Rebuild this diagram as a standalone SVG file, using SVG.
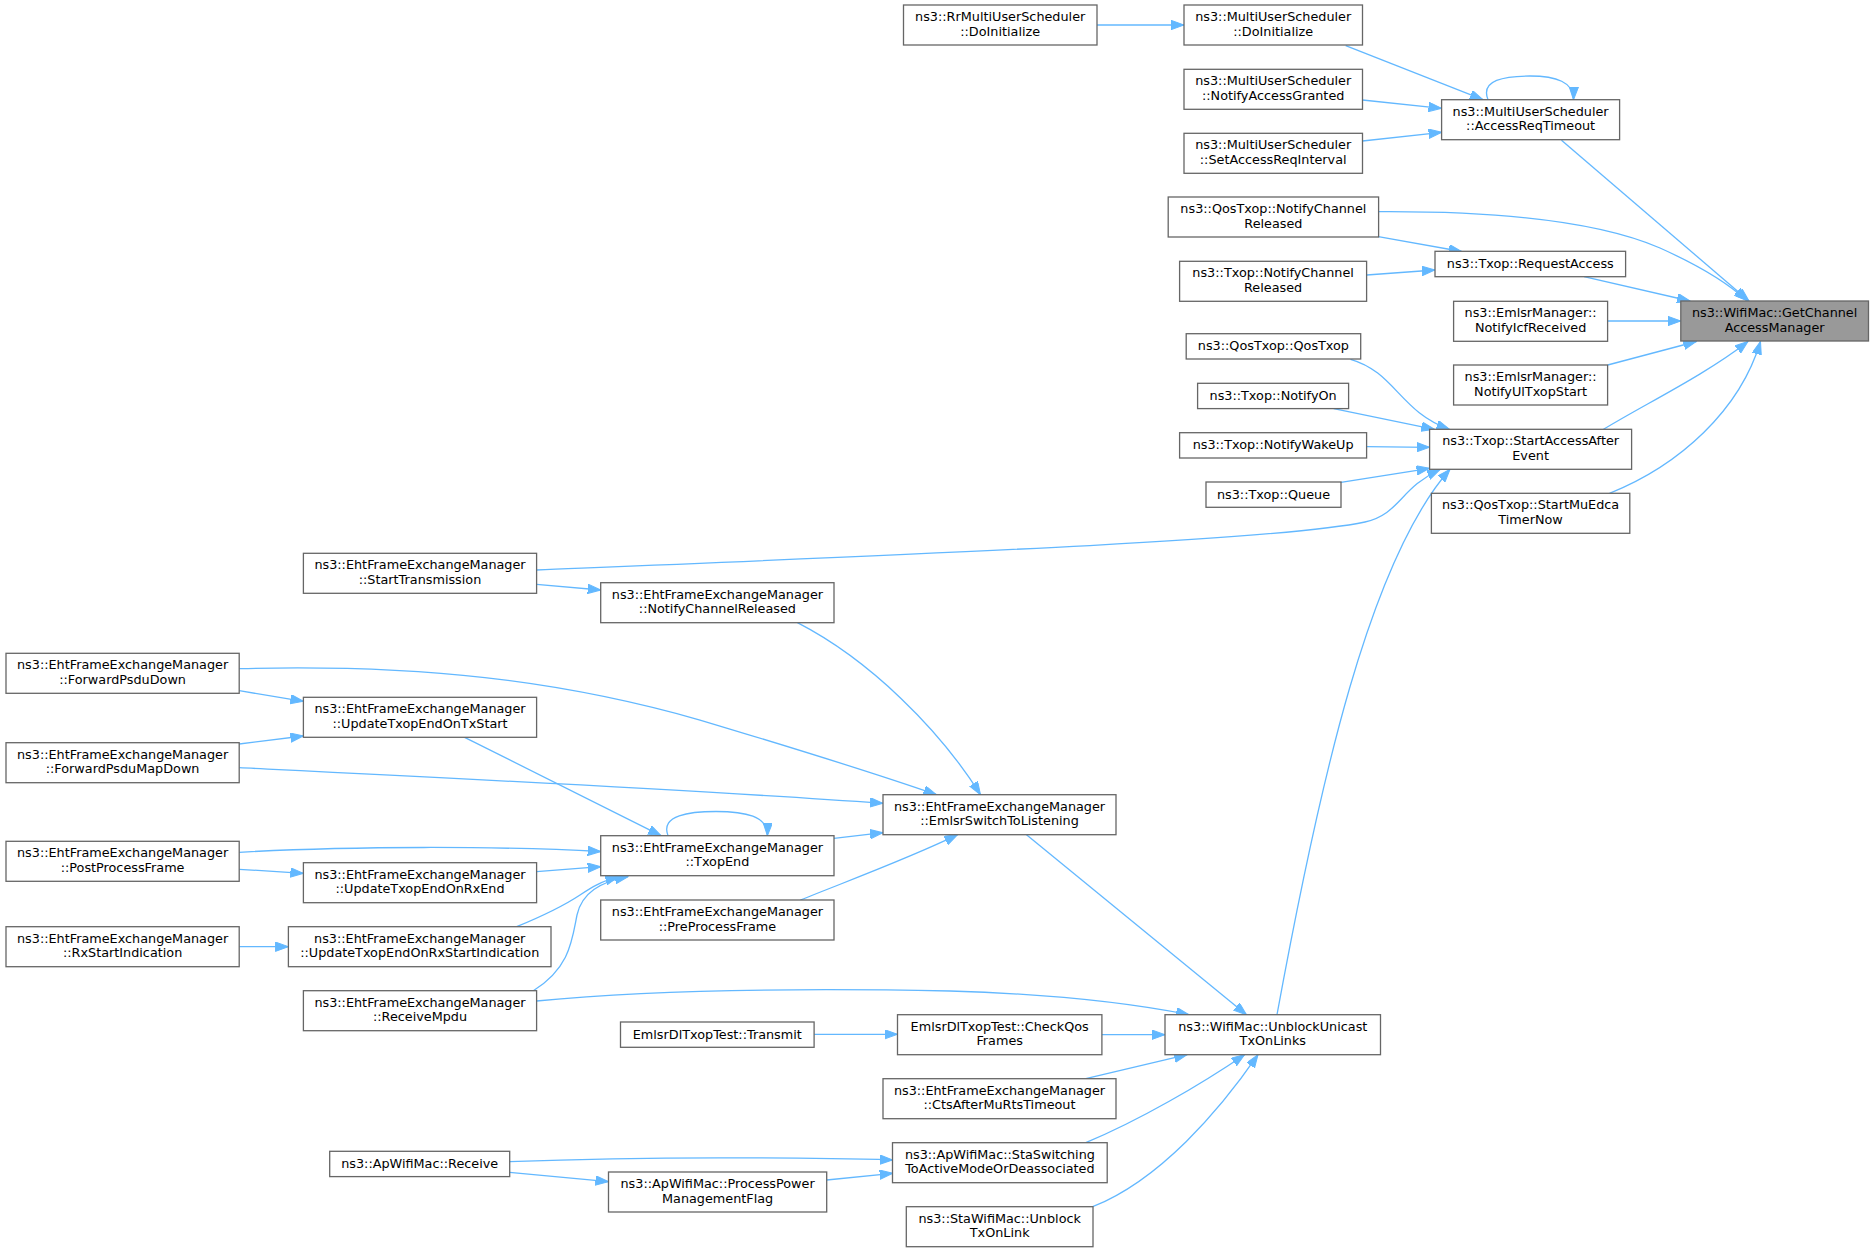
<svg xmlns="http://www.w3.org/2000/svg" width="1875" height="1252" viewBox="0 0 1875 1252">
<style>
.n rect{fill:#ffffff;stroke:#666666;stroke-width:1.3}
.n.t rect{fill:#999999}
.n text{font-family:"DejaVu Sans","Liberation Sans",sans-serif;font-size:12.8px;fill:#000000;text-anchor:middle}
.e path{fill:none;stroke:#63b8ff;stroke-width:1.3;marker-end:url(#ah)}
</style>
<defs>
<marker id="ah" markerUnits="userSpaceOnUse" markerWidth="14" markerHeight="10" refX="13" refY="4.7" orient="auto">
<path d="M0,0 L13,4.7 L0,9.4 z" fill="#63b8ff" stroke="#63b8ff" stroke-width="1"/>
</marker>
</defs>
<rect width="1875" height="1252" fill="#ffffff"/>
<g id="connectors" class="e">
<path d="M1097,25 L1184,25"/>
<path d="M1345.7,45.7 L1483,99.7"/>
<path d="M1362.5,100 L1441.6,108.3"/>
<path d="M1362.5,141 L1441.6,132.3"/>
<path d="M1488,99.7 C 1480,80 1505,76 1530,76 C 1556,76 1574,82 1573.5,99.7"/>
<path d="M1561.5,140.3 L1749,301"/>
<path d="M1378.3,211.7 C 1500,211 1600,222 1660,248 C 1700,266 1730,285 1746.7,300.5"/>
<path d="M1378.3,236.7 L1461.7,251.5"/>
<path d="M1366.7,275 L1435,270"/>
<path d="M1584,276.7 L1690,301"/>
<path d="M1607.7,321 L1680.8,321"/>
<path d="M1607.7,365 L1696.4,341.5"/>
<path d="M1603.5,429.3 C 1645,404 1705,375 1748,341.5"/>
<path d="M1609.5,493.3 C 1680,465 1740,410 1760.5,341.5"/>
<path d="M1350.5,359.3 C 1395,372 1400,412 1449.4,429.3"/>
<path d="M1333.7,408.7 L1434.4,429.3"/>
<path d="M1366.7,446.7 L1429.6,447.3"/>
<path d="M1340.9,482.3 L1429.6,468.3"/>
<path d="M536.6,570 C 950,553 1280,540 1365,522 C 1400,514 1400,488 1440,469.5"/>
<path d="M1277,1014.7 C 1320,780 1370,560 1450,469.3"/>
<path d="M536.6,584.3 L600.7,590"/>
<path d="M797.4,622.7 C 870,660 940,730 980.5,794.7"/>
<path d="M239.2,668.7 C 420,664 560,680 700,720 C 800,750 880,775 936.5,794.7"/>
<path d="M239.2,690.7 L303.4,701.3"/>
<path d="M239.2,744 L303.4,736"/>
<path d="M239.2,767.7 C 450,778 700,790 883,803.3"/>
<path d="M464.6,737.3 L661,835.7"/>
<path d="M668,835.7 C 660,815 690,811.5 716,811.5 C 745,811.5 768,816 767.4,835.7"/>
<path d="M834,838.3 L883,832.7"/>
<path d="M800.4,900 C 850,880 910,858 957.6,834.7"/>
<path d="M239.2,852.3 C 350,846 500,846 600.7,851.5"/>
<path d="M239.2,869.3 L303.4,873.3"/>
<path d="M536.6,871.7 L600.7,866.7"/>
<path d="M516.7,926.7 C 545,915 565,905 580,895 C 592,887 600,882 618.3,876.7"/>
<path d="M533.3,990.7 C 570,968 572,940 577,915 C 582,893 600,882 628,876.7"/>
<path d="M239.2,946.7 L288.4,946.7"/>
<path d="M536.6,1001 C 650,990 800,988 950,991 C 1050,994 1130,1003 1189,1014.7"/>
<path d="M1026.5,834.7 L1246.5,1014.7"/>
<path d="M814.1,1034.3 L897.5,1034.3"/>
<path d="M1101.9,1034.7 L1165,1034.7"/>
<path d="M1085.8,1078.7 L1187.2,1054.7"/>
<path d="M1085.8,1142.7 C 1140,1120 1200,1085 1244.6,1054.7"/>
<path d="M1092.7,1206.7 C 1160,1180 1220,1110 1258,1054.7"/>
<path d="M509.6,1161.7 C 650,1157 800,1157 892.7,1160"/>
<path d="M509.6,1172.3 L608.5,1181.7"/>
<path d="M826.7,1180 L892.7,1173.3"/>
</g>
<g id="n_rr" class="n"><rect x="903.5" y="5" width="193.5" height="40"/><text x="1000.2" y="21">ns3::RrMultiUserScheduler</text><text x="1000.2" y="35.5">::DoInitialize</text></g>
<g id="n_mus_init" class="n"><rect x="1184" y="5" width="178.5" height="40"/><text x="1273.2" y="21">ns3::MultiUserScheduler</text><text x="1273.2" y="35.5">::DoInitialize</text></g>
<g id="n_mus_grant" class="n"><rect x="1184" y="69.3" width="178.5" height="40"/><text x="1273.2" y="85.3">ns3::MultiUserScheduler</text><text x="1273.2" y="99.8">::NotifyAccessGranted</text></g>
<g id="n_mus_setint" class="n"><rect x="1184" y="133.3" width="178.5" height="40"/><text x="1273.2" y="149.3">ns3::MultiUserScheduler</text><text x="1273.2" y="163.8">::SetAccessReqInterval</text></g>
<g id="n_mus_timeout" class="n"><rect x="1441.6" y="99.7" width="178" height="40"/><text x="1530.6" y="115.7">ns3::MultiUserScheduler</text><text x="1530.6" y="130.2">::AccessReqTimeout</text></g>
<g id="n_qos_ncr" class="n"><rect x="1168.2" y="197" width="210.4" height="40"/><text x="1273.4" y="213">ns3::QosTxop::NotifyChannel</text><text x="1273.4" y="227.5">Released</text></g>
<g id="n_txop_ncr" class="n"><rect x="1179.6" y="261.3" width="187" height="40"/><text x="1273.1" y="277.3">ns3::Txop::NotifyChannel</text><text x="1273.1" y="291.8">Released</text></g>
<g id="n_reqacc" class="n"><rect x="1435" y="251.3" width="190.6" height="25.4"/><text x="1530.3" y="267.8">ns3::Txop::RequestAccess</text></g>
<g id="n_icf" class="n"><rect x="1453.6" y="301.3" width="154" height="40"/><text x="1530.6" y="317.3">ns3::EmlsrManager::</text><text x="1530.6" y="331.8">NotifyIcfReceived</text></g>
<g id="n_target" class="n t"><rect x="1680.8" y="301" width="187.7" height="40"/><text x="1774.6" y="317">ns3::WifiMac::GetChannel</text><text x="1774.6" y="331.5">AccessManager</text></g>
<g id="n_ul" class="n"><rect x="1453.6" y="365" width="154" height="40"/><text x="1530.6" y="381">ns3::EmlsrManager::</text><text x="1530.6" y="395.5">NotifyUlTxopStart</text></g>
<g id="n_qostxop" class="n"><rect x="1186.2" y="333.7" width="174.5" height="25.3"/><text x="1273.4" y="350.2">ns3::QosTxop::QosTxop</text></g>
<g id="n_notifyon" class="n"><rect x="1197.6" y="383.3" width="151" height="25.3"/><text x="1273.1" y="399.8">ns3::Txop::NotifyOn</text></g>
<g id="n_wakeup" class="n"><rect x="1179.6" y="432.7" width="187" height="25.3"/><text x="1273.1" y="449.2">ns3::Txop::NotifyWakeUp</text></g>
<g id="n_queue" class="n"><rect x="1206" y="482" width="135" height="25.3"/><text x="1273.5" y="498.5">ns3::Txop::Queue</text></g>
<g id="n_saae" class="n"><rect x="1429.6" y="429.3" width="202" height="40"/><text x="1530.6" y="445.3">ns3::Txop::StartAccessAfter</text><text x="1530.6" y="459.8">Event</text></g>
<g id="n_muedca" class="n"><rect x="1431.4" y="493.3" width="198.4" height="40"/><text x="1530.6" y="509.3">ns3::QosTxop::StartMuEdca</text><text x="1530.6" y="523.8">TimerNow</text></g>
<g id="n_starttx" class="n"><rect x="303.4" y="553.3" width="233.2" height="40"/><text x="420" y="569.3">ns3::EhtFrameExchangeManager</text><text x="420" y="583.8">::StartTransmission</text></g>
<g id="n_eht_ncr" class="n"><rect x="600.7" y="582.7" width="233.3" height="40"/><text x="717.4" y="598.7">ns3::EhtFrameExchangeManager</text><text x="717.4" y="613.2">::NotifyChannelReleased</text></g>
<g id="n_fwd" class="n"><rect x="6" y="653.3" width="233.2" height="40"/><text x="122.6" y="669.3">ns3::EhtFrameExchangeManager</text><text x="122.6" y="683.8">::ForwardPsduDown</text></g>
<g id="n_upd_txs" class="n"><rect x="303.4" y="697.3" width="233.2" height="40"/><text x="420" y="713.3">ns3::EhtFrameExchangeManager</text><text x="420" y="727.8">::UpdateTxopEndOnTxStart</text></g>
<g id="n_fwdmap" class="n"><rect x="6" y="742.7" width="233.2" height="40"/><text x="122.6" y="758.7">ns3::EhtFrameExchangeManager</text><text x="122.6" y="773.2">::ForwardPsduMapDown</text></g>
<g id="n_emlsr" class="n"><rect x="883" y="794.7" width="233" height="40"/><text x="999.5" y="810.7">ns3::EhtFrameExchangeManager</text><text x="999.5" y="825.2">::EmlsrSwitchToListening</text></g>
<g id="n_post" class="n"><rect x="6" y="841.3" width="233.2" height="40"/><text x="122.6" y="857.3">ns3::EhtFrameExchangeManager</text><text x="122.6" y="871.8">::PostProcessFrame</text></g>
<g id="n_txopend" class="n"><rect x="600.7" y="835.7" width="233.3" height="40"/><text x="717.4" y="851.7">ns3::EhtFrameExchangeManager</text><text x="717.4" y="866.2">::TxopEnd</text></g>
<g id="n_upd_rxe" class="n"><rect x="303.4" y="862.7" width="233.2" height="40"/><text x="420" y="878.7">ns3::EhtFrameExchangeManager</text><text x="420" y="893.2">::UpdateTxopEndOnRxEnd</text></g>
<g id="n_pre" class="n"><rect x="600.7" y="900" width="233.3" height="40"/><text x="717.4" y="916">ns3::EhtFrameExchangeManager</text><text x="717.4" y="930.5">::PreProcessFrame</text></g>
<g id="n_rxstart" class="n"><rect x="6" y="926.7" width="233.2" height="40"/><text x="122.6" y="942.7">ns3::EhtFrameExchangeManager</text><text x="122.6" y="957.2">::RxStartIndication</text></g>
<g id="n_upd_rxs" class="n"><rect x="288.4" y="926.7" width="262.6" height="40"/><text x="419.7" y="942.7">ns3::EhtFrameExchangeManager</text><text x="419.7" y="957.2">::UpdateTxopEndOnRxStartIndication</text></g>
<g id="n_rxmpdu" class="n"><rect x="303.4" y="990.7" width="233.2" height="40"/><text x="420" y="1006.7">ns3::EhtFrameExchangeManager</text><text x="420" y="1021.2">::ReceiveMpdu</text></g>
<g id="n_transmit" class="n"><rect x="620.5" y="1022" width="193.6" height="25.3"/><text x="717.3" y="1038.5">EmlsrDlTxopTest::Transmit</text></g>
<g id="n_checkqos" class="n"><rect x="897.5" y="1014.7" width="204.4" height="40"/><text x="999.7" y="1030.7">EmlsrDlTxopTest::CheckQos</text><text x="999.7" y="1045.2">Frames</text></g>
<g id="n_unblock" class="n"><rect x="1165" y="1014.7" width="215.5" height="40"/><text x="1272.8" y="1030.7">ns3::WifiMac::UnblockUnicast</text><text x="1272.8" y="1045.2">TxOnLinks</text></g>
<g id="n_cts" class="n"><rect x="883" y="1078.7" width="233" height="40"/><text x="999.5" y="1094.7">ns3::EhtFrameExchangeManager</text><text x="999.5" y="1109.2">::CtsAfterMuRtsTimeout</text></g>
<g id="n_staswitch" class="n"><rect x="892.5" y="1142.7" width="214.7" height="40"/><text x="999.9" y="1158.7">ns3::ApWifiMac::StaSwitching</text><text x="999.9" y="1173.2">ToActiveModeOrDeassociated</text></g>
<g id="n_recv" class="n"><rect x="329.7" y="1151.3" width="180" height="25.3"/><text x="419.7" y="1167.8">ns3::ApWifiMac::Receive</text></g>
<g id="n_ppm" class="n"><rect x="608.5" y="1172" width="218.2" height="40"/><text x="717.6" y="1188">ns3::ApWifiMac::ProcessPower</text><text x="717.6" y="1202.5">ManagementFlag</text></g>
<g id="n_staunblock" class="n"><rect x="906.3" y="1206.7" width="186.7" height="40"/><text x="999.7" y="1222.7">ns3::StaWifiMac::Unblock</text><text x="999.7" y="1237.2">TxOnLink</text></g>
</svg>
